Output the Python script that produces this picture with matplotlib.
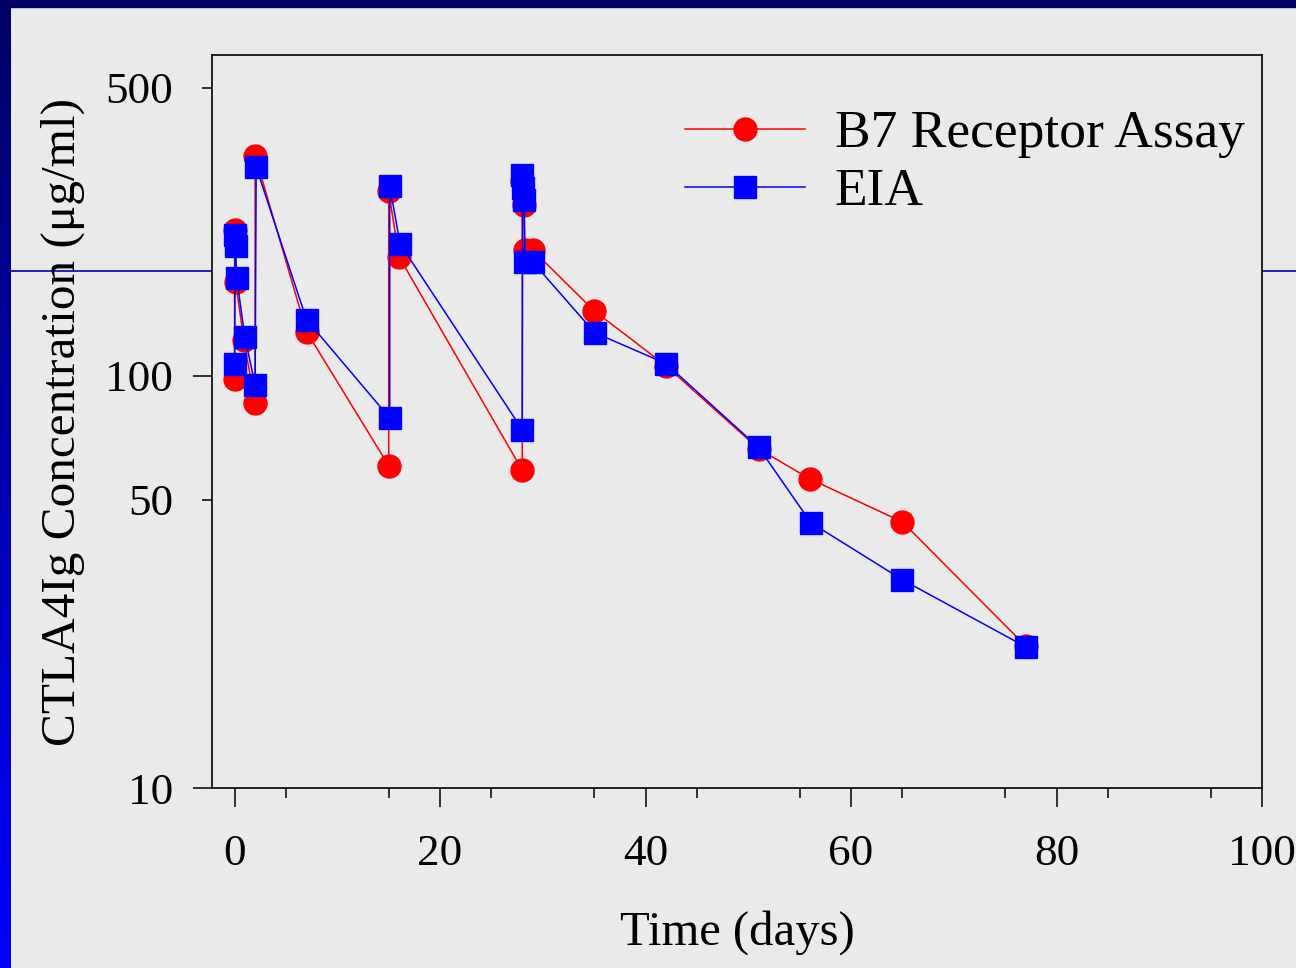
import numpy as np
import matplotlib
matplotlib.use('Agg')
import matplotlib.pyplot as plt
from matplotlib.lines import Line2D
from matplotlib.patches import Rectangle
from matplotlib.ticker import FixedLocator, FixedFormatter

plt.rcParams['font.family'] = ['Liberation Serif', 'DejaVu Serif']

# B7 receptor assay (red circles)
b7_days = [0, 0, 0.1, 0.9, 2, 2, 7, 15, 15, 16, 28, 28.02, 28.15, 28.25, 29,
           35, 42, 51, 56, 65, 77]
b7_conc = [98, 226, 169, 122, 86, 342, 128, 60.5, 280, 194.5, 59, 296, 260, 202, 202,
           143.7, 105.7, 66.5, 56.2, 44.2, 22.1]

# EIA (blue squares)
eia_days = [0, 0.05, 0.1, 0.2, 1.0, 2, 2.1, 7, 15.1, 15.1, 16.1, 28, 28.02, 28.1, 28.2,
            28.25, 29, 35.05, 42, 51, 56.1, 65, 77]
eia_conc = [107, 220, 207, 173, 124, 95, 321, 136.8, 79, 289, 209, 74, 307, 286, 267,
            189, 189, 127.2, 107, 67, 44.0, 32.0, 22.0]

x_ticks = [0, 20, 40, 60, 80, 100]
y_major = [10, 100]
y_minor = [50, 500]

BG = '#EAEAEA'
W, H = 1296, 968

fig = plt.figure(figsize=(W / 100, H / 100), dpi=100)
fig.patch.set_facecolor(BG)

# slide decoration: top band, left gradient band, thin blue rule
fig.add_artist(Rectangle((0, 1 - 7 / H), 1, 7 / H, transform=fig.transFigure,
                         color='#000066', zorder=0))
grad_ax = fig.add_axes([0, 0, 11 / W, 1 - 7 / H])
grad = np.linspace(0, 1, 256).reshape(-1, 1)
cmap = matplotlib.colors.LinearSegmentedColormap.from_list('slide', ['#000066', '#0000FF'])
grad_ax.imshow(grad, aspect='auto', cmap=cmap, extent=[0, 1, 0, 1], origin='upper')
grad_ax.set_axis_off()
fig.add_artist(Line2D([11 / W, 1], [1 - 271 / H, 1 - 271 / H], transform=fig.transFigure,
                      color='#0000B0', lw=1.2, zorder=0))

ax = fig.add_axes([212 / W, 1 - 788 / H, (1262 - 212) / W, (788 - 55) / H])
ax.set_facecolor(BG)
ax.set_zorder(1)

ax.plot(b7_days, b7_conc, '-', color='#FF0000', lw=1.1, marker='o', ms=16.5,
        mec='#FF0000', mfc='#FF0000', label='B7 Receptor Assay', zorder=3)
ax.plot(eia_days, eia_conc, '-', color='#0000FF', lw=1.1, marker='s', ms=15.5,
        mec='#0000FF', mfc='#0000FF', label='EIA', zorder=4)

ax.set_yscale('log')
ax.set_xlim(-2.2, 100)
ax.set_ylim(10, 600)

ax.xaxis.set_major_locator(FixedLocator(x_ticks))
ax.xaxis.set_minor_locator(FixedLocator(np.arange(5, 100, 10)))
ax.set_xticklabels([str(t) for t in x_ticks])

ax.yaxis.set_major_locator(FixedLocator(y_major))
ax.yaxis.set_major_formatter(FixedFormatter([str(v) for v in y_major]))
ax.yaxis.set_minor_locator(FixedLocator(y_minor))
ax.yaxis.set_minor_formatter(FixedFormatter([str(v) for v in y_minor]))

ax.tick_params(axis='both', which='major', direction='out', length=14, width=1.1,
               labelsize=32.5, color='black')
ax.tick_params(axis='both', which='minor', direction='out', length=7, width=1.1,
               labelsize=32.5, color='black')
ax.tick_params(axis='x', which='both', pad=19)
ax.tick_params(axis='y', which='major', pad=14)
ax.tick_params(axis='y', which='minor', pad=21)

for sp in ax.spines.values():
    sp.set_color('black')
    sp.set_linewidth(1.2)

ax.set_xlabel('Time (days)', fontsize=35, labelpad=26)
ax.set_ylabel('CTLA4Ig Concentration (μg/ml)', fontsize=35.5, labelpad=14.5)

ax.legend(loc='upper left', bbox_to_anchor=(685 / W, 1 - 110 / H),
          bbox_transform=fig.transFigure, frameon=False, fontsize=38.5,
          handlelength=2.24, handletextpad=0.56, labelspacing=0.18,
          borderpad=0, borderaxespad=0)

fig.savefig('out.png', dpi=100, facecolor=BG)
